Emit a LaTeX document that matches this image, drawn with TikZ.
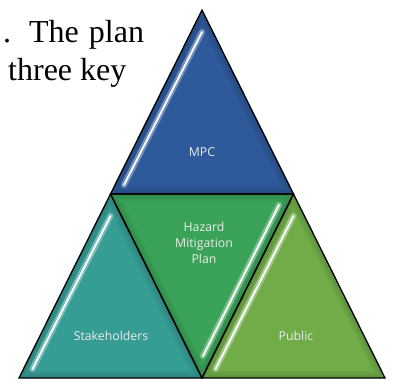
\documentclass[tikz,border=0pt]{standalone}
\usepackage{fontspec}
\setmainfont{Liberation Serif}
\newfontfamily\labelfont{Open Sans}
\usetikzlibrary{positioning}
\definecolor{mpcblue}{RGB}{46,89,154}
\definecolor{hmpgreen}{RGB}{58,163,88}
\definecolor{stkteal}{RGB}{54,157,149}
\definecolor{pubgreen}{RGB}{112,172,72}

\begin{document}
\begin{tikzpicture}[x=1pt, y=-1pt,
  edge/.style={draw=black, line width=1.3pt, line join=miter},
  glint/.style={white, line width=1.8pt, line cap=round},
  glow/.style={line width=6pt, line cap=round, opacity=0.55},
  lbl/.style={font=\labelfont\fontsize{12.3}{16}\selectfont,
    text=white!92!black, align=center, inner sep=0pt},
  body/.style={font=\fontsize{32}{38}\selectfont, anchor=base west, inner sep=0pt}]
\useasboundingbox (0,0) rectangle (396,379);
% Corners
\coordinate (a) at (202,10);
\coordinate (b) at (110.5,194);
\coordinate (c) at (293.5,194);
\coordinate (d) at (19,378);
\coordinate (e) at (202,378);
\coordinate (f) at (385,378);
% Fills with soft bevel, drawn round each incentre
\foreach \col/\cx/\cy/\s in {mpcblue/202/137.3/1, hmpgreen/202/250.7/-1,
    stkteal/110.5/321.3/1, pubgreen/293.5/321.3/1} {
  \foreach \k in {0,...,8} {
    \pgfmathsetmacro\f{1-\k*0.0176}
    \pgfmathtruncatemacro\m{84+\k*2}
    \fill[\col!\m!black, shift={(\cx,\cy)}, yscale=\s, scale=\f]
      (0,-127.3) -- (-91.5,56.7) -- (91.5,56.7) -- cycle;
  }
}
% Highlights
\draw[glow, mpcblue!40]   (202,32) -- (124,185);
\draw[glint]              (202,32) -- (124,185);
\draw[glow, hmpgreen!40]  (279,205) -- (203,356);
\draw[glint]              (279,205) -- (203,356);
\draw[glow, stkteal!40]   (110.5,216) -- (32.5,369);
\draw[glint]              (110.5,216) -- (32.5,369);
\draw[glow, pubgreen!40]  (293.5,216) -- (215.5,369);
\draw[glint]              (293.5,216) -- (215.5,369);
% Outlines
\draw[edge] (a) -- (b) -- (c) -- cycle;
\draw[edge] (b) -- (c) -- (e) -- cycle;
\draw[edge] (b) -- (d) -- (e) -- cycle;
\draw[edge] (c) -- (e) -- (f) -- cycle;
% Labels
\node[lbl] (mpc) at (202,152) {MPC};
\node[lbl] (hmp) at (204,243) {Hazard\\Mitigation\\Plan};
\node[lbl] (stk) at (111,336) {Stakeholders};
\node[lbl] (pub) at (296,336) {Public};
% Running text
\node[body] (line1) at (3,43) {.\hspace{18pt}The\hspace{10pt}plan};
\node[body] (line2) at (8,81) {three key};
\end{tikzpicture}
\end{document}
